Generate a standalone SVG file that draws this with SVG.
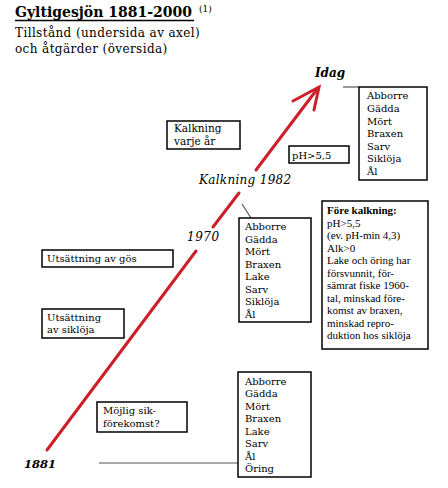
<svg xmlns="http://www.w3.org/2000/svg" width="448" height="488" viewBox="0 0 448 488">
<style>
.box{fill:#fff;stroke:#000;stroke-width:1.5}
.t{font-family:"DejaVu Serif","Liberation Serif",serif;font-size:10px;fill:#000}
.tm{font-family:"Liberation Serif","DejaVu Serif",serif;font-size:11px;fill:#000}
.it{font-family:"DejaVu Serif","Liberation Serif",serif;font-size:12px;font-style:italic;fill:#000}
.bi{font-family:"DejaVu Serif","Liberation Serif",serif;font-weight:bold;font-style:italic;fill:#000}
.red{stroke:#cc1f2a;stroke-width:3;fill:none;stroke-linecap:round}
.con{stroke:#555;stroke-width:1.2;fill:none}
</style>
<rect width="448" height="488" fill="#fff"/>
<g id="title">
<text x="15" y="17" font-family="DejaVu Serif, serif" font-weight="bold" font-size="14">Gyltigesjön 1881-2000</text>
<line x1="15" y1="20.5" x2="194" y2="20.5" stroke="#000" stroke-width="1.5"/>
<text x="199" y="12" class="t" style="font-size:9px">(1)</text>
<text x="15" y="37" class="t" style="font-size:12px;letter-spacing:0.4px">Tillstånd (undersida av axel)</text>
<text x="15" y="53" class="t" style="font-size:12px;letter-spacing:0.4px">och åtgärder (översida)</text>
</g>
<g id="connectors">
<line class="red" x1="47" y1="450" x2="196" y2="251"/>
<line class="red" x1="213" y1="227" x2="239" y2="193"/>
<line class="red" x1="256" y1="170" x2="318" y2="88"/>
<polyline class="red" points="293,101 319,87 314,110"/>
<line class="con" x1="343" y1="87" x2="359" y2="87"/>
<line class="con" x1="242" y1="204" x2="251" y2="218"/>
<line class="con" x1="99" y1="463" x2="238" y2="463"/>
</g>
<g id="idag-label"><text x="315" y="77" class="bi" style="font-size:12px">Idag</text></g>
<g id="kalkning1982"><text x="199" y="184" class="it" letter-spacing="0.3">Kalkning 1982</text></g>
<g id="label1970"><text x="187" y="241" class="it" letter-spacing="0.5">1970</text></g>
<g id="label1881"><text x="24" y="468" class="bi" style="font-size:11.5px">1881</text></g>
<g id="idag-box">
<rect class="box" x="359" y="87" width="68" height="93"/>
<text class="t" x="367" y="99">Abborre</text>
<text class="t" x="367" y="112">Gädda</text>
<text class="t" x="367" y="124.5">Mört</text>
<text class="t" x="367" y="137">Braxen</text>
<text class="t" x="367" y="149.5">Sarv</text>
<text class="t" x="367" y="162">Siklöja</text>
<text class="t" x="367" y="175">Ål</text>
</g>
<g id="ph-box">
<rect class="box" x="289" y="146" width="60" height="17"/>
<text class="t" x="292" y="158.5">pH&gt;5,5</text>
</g>
<g id="kalkning-box">
<rect class="box" x="167" y="121" width="73" height="28"/>
<text class="t" x="174" y="132" style="font-size:10.5px">Kalkning</text>
<text class="t" x="174" y="145" style="font-size:10.5px">varje år</text>
</g>
<g id="box1970">
<rect class="box" x="239" y="218" width="72" height="104"/>
<text class="t" x="245" y="230">Abborre</text>
<text class="t" x="245" y="242.5">Gädda</text>
<text class="t" x="245" y="255">Mört</text>
<text class="t" x="245" y="267.5">Braxen</text>
<text class="t" x="245" y="280">Lake</text>
<text class="t" x="245" y="292.5">Sarv</text>
<text class="t" x="245" y="305">Siklöja</text>
<text class="t" x="245" y="317.5">Ål</text>
</g>
<g id="fore-box">
<rect class="box" x="322" y="201" width="106" height="148"/>
<text class="tm" x="327" y="214" font-weight="bold">Före kalkning:</text>
<text class="tm" x="327" y="226.5">pH&gt;5,5</text>
<text class="tm" x="327" y="239">(ev. pH-min 4,3)</text>
<text class="tm" x="327" y="251.5">Alk&gt;0</text>
<text class="tm" x="327" y="264">Lake och öring har</text>
<text class="tm" x="327" y="276.5">försvunnit, för-</text>
<text class="tm" x="327" y="289">sämrat fiske 1960-</text>
<text class="tm" x="327" y="301.5">tal, minskad före-</text>
<text class="tm" x="327" y="314">komst av braxen,</text>
<text class="tm" x="327" y="326.5">minskad repro-</text>
<text class="tm" x="327" y="339">duktion hos siklöja</text>
</g>
<g id="gos-box">
<rect class="box" x="42" y="250" width="131" height="17"/>
<text class="t" x="47" y="262">Utsättning av gös</text>
</g>
<g id="sikloja-box">
<rect class="box" x="42" y="309" width="82" height="29"/>
<text class="t" x="47" y="320.5">Utsättning</text>
<text class="t" x="47" y="333">av siklöja</text>
</g>
<g id="sik-box">
<rect class="box" x="97" y="402" width="90" height="30"/>
<text class="t" x="103" y="414">Möjlig  sik-</text>
<text class="t" x="103" y="427">förekomst?</text>
</g>
<g id="box1881">
<rect class="box" x="238" y="372" width="73" height="105"/>
<text class="t" x="245" y="384.5">Abborre</text>
<text class="t" x="245" y="397">Gädda</text>
<text class="t" x="245" y="409.5">Mört</text>
<text class="t" x="245" y="422">Braxen</text>
<text class="t" x="245" y="434.5">Lake</text>
<text class="t" x="245" y="447">Sarv</text>
<text class="t" x="245" y="459.5">Ål</text>
<text class="t" x="245" y="472">Öring</text>
</g>
</svg>
